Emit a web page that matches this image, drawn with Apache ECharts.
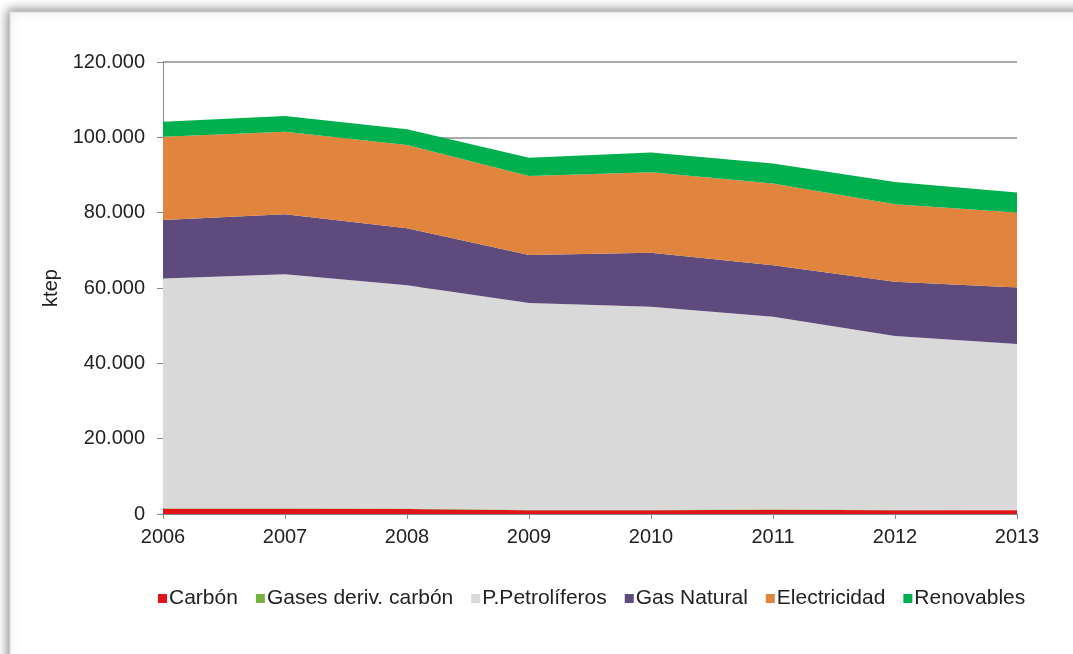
<!DOCTYPE html>
<html><head><meta charset="utf-8">
<script src="https://cdn.jsdelivr.net/npm/echarts@6/dist/echarts.min.js"></script>
<style>html,body{margin:0;padding:0;background:#fff}#c{width:1073px;height:654px}</style>
</head><body><div id="c"></div>
<script>
const years = ['2006','2007','2008','2009','2010','2011','2012','2013'];
const carbon = [1400,1400,1300,1000,1000,1100,1000,1000];
const gases = [150,150,150,150,150,150,150,150];
const petroliferos = [61000,62100,59300,54900,53900,51100,46100,44000];
const gasNatural = [15500,15900,15100,12700,14300,13700,14400,15000];
const electricidad = [22100,21900,22100,21000,21400,21700,20600,19900];
const renovables = [4000,4200,4200,4800,5200,5300,5900,5300];
const yTicks = [0,20000,40000,60000,80000,100000,120000];

const names = ['Carbón','Gases deriv. carbón','P.Petrolíferos','Gas Natural','Electricidad','Renovables'];
const datas = [carbon,gases,petroliferos,gasNatural,electricidad,renovables];
const colors = ['#e2141b','#77b043','#d9d9d9','#5f4a7e','#e0843e','#00b04f'];

function fmt(v){return v===0?'0':String(v).replace(/\B(?=(\d{3})+(?!\d))/g,'.');}

const chart = echarts.init(document.getElementById('c'));
chart.setOption({
  animation:false,
  backgroundColor:'#fff',
  textStyle:{fontFamily:'Liberation Sans, Arial, sans-serif'},
  graphic:[{type:'rect',z:-10,shape:{x:10,y:12,width:1200,height:800},
    style:{fill:'#fff',stroke:'#d8d8d8',lineWidth:1,shadowBlur:10,shadowOffsetX:-2,shadowOffsetY:-2,shadowColor:'rgba(0,0,0,0.45)'}}],
  color:colors,
  grid:{left:163,right:56,top:62,bottom:140,containLabel:false},
  legend:{bottom:40,left:153,itemWidth:9,itemHeight:9,itemGap:18,icon:'rect',
    textStyle:{fontSize:21,color:'#222',padding:[0,0,0,-3]},data:names},
  xAxis:{type:'category',data:years,boundaryGap:false,
    axisLine:{lineStyle:{color:'#888'}},axisTick:{show:true,length:5,lineStyle:{color:'#888'}},
    axisLabel:{fontSize:20,color:'#222',margin:13}},
  yAxis:{type:'value',min:yTicks[0],max:yTicks[yTicks.length-1],interval:20000,
    name:'ktep',nameLocation:'middle',nameGap:102,nameRotate:90,nameTextStyle:{fontSize:20,color:'#222'},
    axisLine:{show:true,lineStyle:{color:'#888'}},axisTick:{show:true,length:6,lineStyle:{color:'#888'}},
    axisLabel:{fontSize:20,color:'#222',margin:18,formatter:v=>fmt(v)},
    splitLine:{lineStyle:{color:'#8c8c8c',width:1.5}}},
  series:names.map((n,i)=>({name:n,type:'line',stack:'t',data:datas[i],showSymbol:false,symbol:'none',
    lineStyle:{width:0},areaStyle:{color:colors[i],opacity:1},itemStyle:{color:colors[i]}}))
});
</script></body></html>
